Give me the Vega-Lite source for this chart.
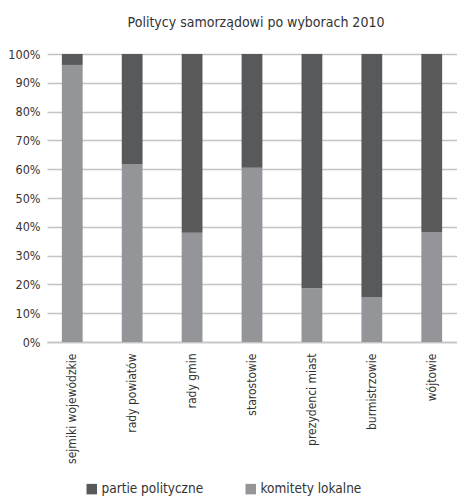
{
  "$schema": "https://vega.github.io/schema/vega-lite/v6.json",
  "width": 410,
  "height": 288,
  "autosize": {"type": "none"},
  "padding": {"left": 47, "top": 54, "right": 0, "bottom": 156},
  "background": "white",
  "config": {
    "font": "DejaVu Sans Condensed, sans-serif",
    "view": {"stroke": null}
  },
  "title": {
    "text": "Politycy samorządowi po wyborach 2010",
    "fontSize": 14,
    "fontWeight": "normal",
    "color": "#333333",
    "anchor": "middle",
    "offset": 7,
    "baseline": "alphabetic",
    "dx": 4
  },
  "data": {
    "values": [
      {"kategoria": "sejmiki wojewódzkie", "seria": "komitety lokalne", "udzial": 0.962},
      {"kategoria": "sejmiki wojewódzkie", "seria": "partie polityczne", "udzial": 0.038},
      {"kategoria": "rady powiatów", "seria": "komitety lokalne", "udzial": 0.618},
      {"kategoria": "rady powiatów", "seria": "partie polityczne", "udzial": 0.382},
      {"kategoria": "rady gmin", "seria": "komitety lokalne", "udzial": 0.379},
      {"kategoria": "rady gmin", "seria": "partie polityczne", "udzial": 0.621},
      {"kategoria": "starostowie", "seria": "komitety lokalne", "udzial": 0.605},
      {"kategoria": "starostowie", "seria": "partie polityczne", "udzial": 0.395},
      {"kategoria": "prezydenci miast", "seria": "komitety lokalne", "udzial": 0.187},
      {"kategoria": "prezydenci miast", "seria": "partie polityczne", "udzial": 0.813},
      {"kategoria": "burmistrzowie", "seria": "komitety lokalne", "udzial": 0.156},
      {"kategoria": "burmistrzowie", "seria": "partie polityczne", "udzial": 0.844},
      {"kategoria": "wójtowie", "seria": "komitety lokalne", "udzial": 0.382},
      {"kategoria": "wójtowie", "seria": "partie polityczne", "udzial": 0.618}
    ]
  },
  "mark": {"type": "bar"},
  "encoding": {
    "x": {
      "field": "kategoria",
      "type": "nominal",
      "sort": null,
      "title": null,
      "scale": {"paddingInner": 0.653, "paddingOuter": 0.248},
      "axis": {
        "labelAngle": -90,
        "labelAlign": "right",
        "labelBaseline": "middle",
        "labelFontSize": 12,
        "labelColor": "#333333",
        "labelPadding": 11,
        "ticks": false,
        "domain": true,
        "domainColor": "#c4c4c4",
        "domainWidth": 1.5,
        "labelLimit": 200
      }
    },
    "y": {
      "field": "udzial",
      "type": "quantitative",
      "stack": "zero",
      "title": null,
      "scale": {"domain": [0, 1], "nice": false},
      "axis": {
        "values": [0, 0.1, 0.2, 0.3, 0.4, 0.5, 0.6, 0.7, 0.8, 0.9, 1],
        "format": ".0%",
        "labelFontSize": 12.5,
        "labelColor": "#333333",
        "labelPadding": 7,
        "ticks": false,
        "domain": false,
        "grid": true,
        "gridColor": "#c4c4c4",
        "gridWidth": 1.5
      }
    },
    "color": {
      "field": "seria",
      "type": "nominal",
      "scale": {
        "domain": ["partie polityczne", "komitety lokalne"],
        "range": ["#58595b", "#939598"]
      },
      "legend": {
        "title": null,
        "orient": "none",
        "direction": "horizontal",
        "legendX": 38,
        "legendY": 428,
        "symbolType": "square",
        "symbolSize": 110,
        "symbolStrokeWidth": 0,
        "labelFontSize": 13.5,
        "labelColor": "#333333",
        "labelOffset": 3,
        "columnPadding": 40
      }
    },
    "order": {"field": "seria", "sort": "ascending"}
  }
}
